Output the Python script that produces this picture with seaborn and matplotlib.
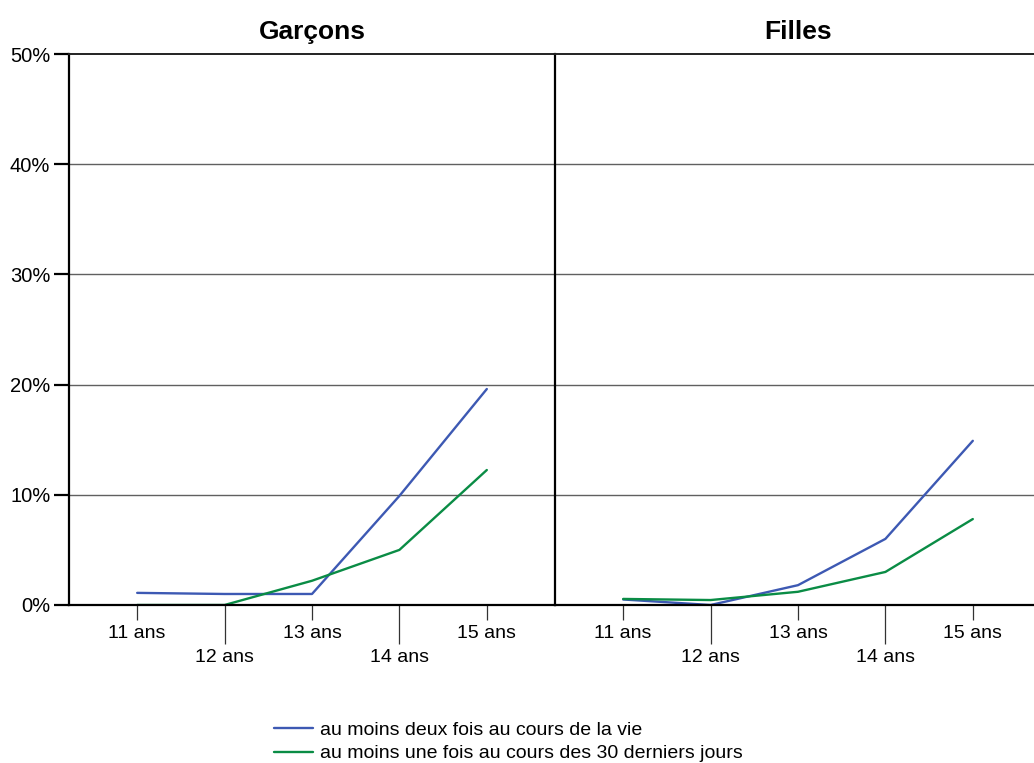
import matplotlib
matplotlib.use("Agg")
import matplotlib.pyplot as plt
import seaborn as sns
import pandas as pd

sns.set_theme(style="white")
plt.rcParams['font.family'] = ['Liberation Sans', 'DejaVu Sans']
plt.rcParams['text.color'] = 'black'

ages = ["11 ans", "12 ans", "13 ans", "14 ans", "15 ans"]
panels = ["Garçons", "Filles"]
series = ["au moins deux fois au cours de la vie",
          "au moins une fois au cours des 30 derniers jours"]
garcons_vie = [1.1, 1.0, 1.0, 9.9, 19.6]
garcons_30j = [0.0, 0.0, 2.2, 5.0, 12.25]
filles_vie = [0.5, 0.0, 1.8, 6.0, 14.9]
filles_30j = [0.55, 0.45, 1.2, 3.0, 7.8]
yticks = [0, 10, 20, 30, 40, 50]
ytick_labels = ["0%", "10%", "20%", "30%", "40%", "50%"]
colors = ["#3D59B3", "#0A8C45"]

rows = []
for panel, vals in [("Garçons", [garcons_vie, garcons_30j]), ("Filles", [filles_vie, filles_30j])]:
    for s, v in zip(series, vals):
        for i, (a, y) in enumerate(zip(ages, v)):
            rows.append({"panel": panel, "serie": s, "x": i, "age": a, "val": y})
df = pd.DataFrame(rows)

W, H = 1034, 763
fig = plt.figure(figsize=(W / 100, H / 100), dpi=100)
L, B, PW, PH = 69, 763 - 605, 486, 551
axes = [fig.add_axes([L / W, B / H, PW / W, PH / H]),
        fig.add_axes([(L + PW) / W, B / H, PW / W, PH / H])]

for k, (ax, panel) in enumerate(zip(axes, panels)):
    sub = df[df.panel == panel]
    sns.lineplot(data=sub, x="x", y="val", hue="serie", hue_order=series,
                 palette=colors, linewidth=1.7, ax=ax, legend=(k == 0))
    ax.set_xlim(-0.78, 4.78)
    ax.set_ylim(0, 50)
    ax.set_xlabel("")
    ax.set_ylabel("")
    ax.set_yticks(yticks)
    for y in yticks[1:-1]:
        ax.axhline(y, color="#606060", lw=1.0, zorder=0)
    ax.set_title(panel, fontsize=19, fontweight="bold", pad=11, color="black")
    for side in ["left", "bottom", "top"]:
        ax.spines[side].set_visible(True)
        ax.spines[side].set_color("black")
    ax.spines["left"].set_linewidth(1.6)
    ax.spines["bottom"].set_linewidth(1.6)
    ax.spines["top"].set_linewidth(1.4)
    ax.spines["top"].set_color("#222222")
    ax.spines["right"].set_visible(False)
    # x ticks: alternating short and long
    ax.set_xticks([0, 2, 4])
    ax.set_xticklabels([ages[0], ages[2], ages[4]])
    ax.set_xticks([1, 3], minor=True)
    ax.set_xticklabels([ages[1], ages[3]], minor=True)
    ax.tick_params(axis="x", which="major", bottom=True, length=10.5, width=0.9,
                   color="#333333", labelsize=14, pad=4, labelcolor="black")
    ax.tick_params(axis="x", which="minor", bottom=True, length=28, width=0.9,
                   color="#333333", labelsize=14, pad=3.5, labelcolor="black")
    if k == 0:
        ax.set_yticklabels(ytick_labels)
        ax.tick_params(axis="y", left=True, length=10.5, width=1.6, color="black",
                       labelsize=14.5, pad=3, labelcolor="black")
    else:
        ax.tick_params(axis="y", left=False, labelleft=False)

leg = axes[0].get_legend()
handles = leg.legend_handles
leg.remove()
fig.legend(handles, series, loc="upper left", bbox_to_anchor=(274 / W, (763 - 721) / H),
           frameon=False, fontsize=14, handlelength=2.0, handletextpad=0.35,
           labelspacing=0.32, borderaxespad=0, borderpad=0)

fig.savefig("out.png", dpi=100)
